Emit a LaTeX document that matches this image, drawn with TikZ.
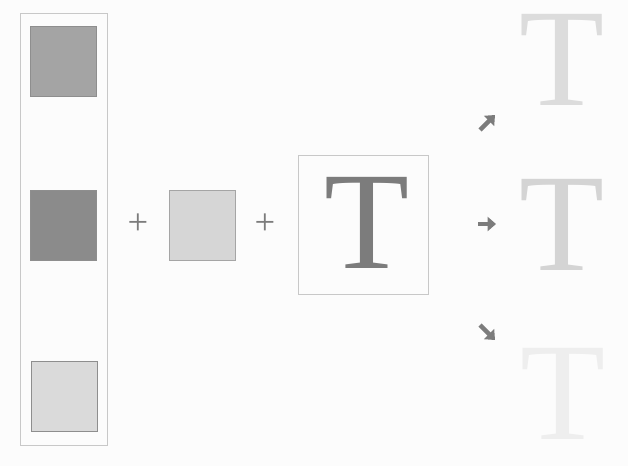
\documentclass[tikz,border=0pt]{standalone}
\usepackage{xcolor}
\usepackage{fontspec}
\setmainfont{Liberation Serif}
\usepackage{tikz}
\usetikzlibrary{arrows.meta}
\definecolor{PaperWhite}{HTML}{FCFCFC}
\definecolor{FrameGray}{HTML}{C8C8C8}
\definecolor{EdgeGray}{HTML}{8E8E8E}
\definecolor{SwatchMid}{HTML}{A4A4A4}
\definecolor{SwatchDark}{HTML}{8B8B8B}
\definecolor{SwatchLight}{HTML}{DADADA}
\definecolor{SwatchDot}{HTML}{D6D6D6}
\definecolor{InkGray}{HTML}{7C7C7C}
\definecolor{GhostA}{HTML}{DCDCDC}
\definecolor{GhostB}{HTML}{D4D4D4}
\definecolor{GhostC}{HTML}{EEEEEE}
\tikzset{
  swatch/.style={
    draw=EdgeGray,line width=0.5pt,
    minimum width=1.65cm,minimum height=1.75cm,inner sep=0pt
  },
  framebox/.style={draw=FrameGray,line width=0.5pt,inner sep=0pt},
  plussign/.style={font=\fontsize{26}{26}\selectfont,text=InkGray,inner sep=0pt},
  bigletter/.style={font=\fontsize{99}{99}\selectfont,inner sep=0pt},
  shiftarrow/.style={line width=3.2pt,draw=InkGray,-{Triangle[length=6pt,width=10pt]}},
}

\begin{document}
\begin{tikzpicture}[x=0.025cm,y=-0.025cm]
  \fill[PaperWhite] (0,0) rectangle (628,466);
  \useasboundingbox (0,0) rectangle (628,466);
  % colour column
  \node[framebox,minimum width=2.175cm,minimum height=10.8cm] (column) at (63.5,229) {};
  \node[swatch,fill=SwatchMid] (top) at (63,61) {};
  \node[swatch,fill=SwatchDark] (middle) at (63,225.5) {};
  \node[swatch,fill=SwatchLight] (bottom) at (64,396.5) {};
  \node[plussign] (plusa) at (138,224) {+};
  \node[swatch,fill=SwatchDot,draw=EdgeGray!80] (dots) at (202.5,225.5) {};
  \node[plussign] (plusb) at (265,224) {+};
  \node[framebox,minimum width=3.25cm,minimum height=3.475cm] (letterbox) at (363,224.5) {};
  \node[bigletter,text=InkGray] (letter) at (367,223) {T};
  % results
  \coordinate (upfrom) at (480,130);
  \coordinate (upto) at (495,115);
  \coordinate (rightfrom) at (478,224);
  \coordinate (rightto) at (496,224);
  \coordinate (downfrom) at (480,325);
  \coordinate (downto) at (495,340);
  \draw[shiftarrow] (upfrom) -- (upto);
  \draw[shiftarrow] (rightfrom) -- (rightto);
  \draw[shiftarrow] (downfrom) -- (downto);
  \node[bigletter,text=GhostA] (lighter) at (562.5,60) {T};
  \node[bigletter,text=GhostB] (same) at (562.5,224.5) {T};
  \node[bigletter,text=GhostC] (faint) at (563,394) {T};
\end{tikzpicture}
\end{document}
